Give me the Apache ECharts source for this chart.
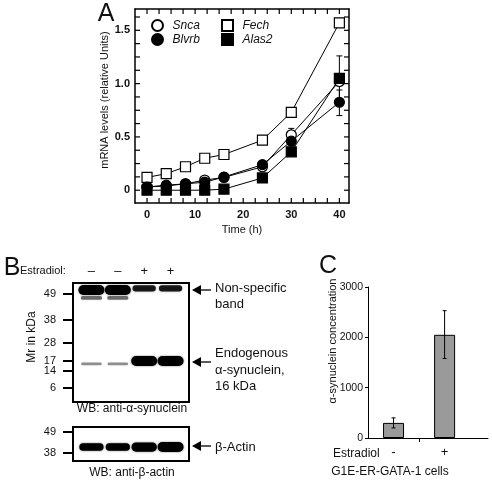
<!DOCTYPE html>
<html><head><meta charset="utf-8">
<script src="https://cdn.jsdelivr.net/npm/echarts@6/dist/echarts.min.js"></script>
<style>html,body{margin:0;padding:0;background:#fff}#c{width:492px;height:484px}</style>
</head><body><div id="c"></div>
<script>
// ---------- Panel A data ----------
const timeH = [0, 4, 8, 12, 16, 24, 30, 40];
const snca  = [0.03, 0.04, 0.06, 0.095, 0.12, 0.22, 0.52, 1.02];
const blvrb = [0.03, 0.047, 0.06, 0.075, 0.124, 0.24, 0.46, 0.825];
const fech  = [0.12, 0.155, 0.22, 0.30, 0.335, 0.47, 0.73, 1.57];
const alas2 = [0.0, 0.0, 0.0, 0.0, 0.01, 0.115, 0.36, 1.05];
// error bars: [time, low, high]
const errA = [[30, 0.46, 0.58], [40, 0.84, 1.26], [40, 0.70, 0.94]];
const xLabelsA = [0, 10, 20, 30, 40];
const xTicksA = [0, 2.5, 5, 7.5, 10, 12.5, 15, 17.5, 20, 22.5, 25, 27.5, 30, 32.5, 35, 37.5, 40];
const yLabelsA = [0, 0.5, 1.0, 1.5];
const yTicksA = [0, 0.125, 0.25, 0.375, 0.5, 0.625, 0.75, 0.875, 1.0, 1.125, 1.25, 1.375, 1.5, 1.625];
const X_MIN = -2.5, X_MAX = 42, Y_MIN = -0.12, Y_MAX = 1.7;

// ---------- Panel B data (western blots) ----------
const laneEstradiol = ['–', '–', '+', '+'];
const laneIdx = [1, 2, 3, 4];
// marker ladder: relative migration (Rf) and kDa
const synMarkerRf  = [0.092, 0.311, 0.504, 0.655, 0.739, 0.882];
const synMarkerKDa = ['49', '38', '28', '17', '14', '6'];
const actMarkerRf  = [0.147, 0.765];
const actMarkerKDa = ['49', '38'];
// bands: [lane, Rf, intensity]
const synBands = [
  [1, 0.059, 1.0], [2, 0.059, 1.0], [3, 0.045, 0.55], [4, 0.045, 0.55],
  [1, 0.126, 0.22], [2, 0.126, 0.22],
  [1, 0.68, 0.1], [2, 0.68, 0.1],
  [3, 0.655, 1.0], [4, 0.655, 1.0]
];
const actBands = [[1, 0.59, 0.7], [2, 0.59, 0.7], [3, 0.59, 0.9], [4, 0.59, 1.0]];

// ---------- Panel C data ----------
const estradiolC = ['-', '+'];
const concC = [300, 2050];
const errC = [[1, 200, 400], [2, 1580, 2530]];

const FONT = '"Liberation Sans", Arial, Helvetica, sans-serif';
const INK = '#111';

function errRender(cap) {
  return function (params, api) {
    const x = api.value(0);
    const p1 = api.coord([x, api.value(1)]);
    const p2 = api.coord([x, api.value(2)]);
    const st = { stroke: '#000', lineWidth: 1 };
    return { type: 'group', children: [
      { type: 'line', shape: { x1: p1[0], y1: p1[1], x2: p2[0], y2: p2[1] }, style: st },
      { type: 'line', shape: { x1: p1[0] - cap, y1: p1[1], x2: p1[0] + cap, y2: p1[1] }, style: st },
      { type: 'line', shape: { x1: p2[0] - cap, y1: p2[1], x2: p2[0] + cap, y2: p2[1] }, style: st }
    ]};
  };
}
function bandRender(params, api) {
  const c = api.coord([api.value(0), api.value(1)]);
  const I = api.value(2);
  const h = 2 + 8 * I, w = 20 + 6 * I;
  const a = Math.min(1, 0.3 + I);
  return { type: 'rect', shape: { x: c[0] - w / 2, y: c[1] - h / 2, width: w, height: h, r: h / 2 },
    style: { fill: 'rgba(0,0,0,' + a + ')', shadowBlur: 2, shadowColor: 'rgba(0,0,0,' + (a * 0.6) + ')' } };
}
function pick(vals, labels) {
  return function (v) {
    for (let i = 0; i < vals.length; i++) if (Math.abs(vals[i] - v) < 1e-6) return labels[i];
    return '';
  };
}
function T(x, y, text, size, opt) {
  opt = opt || {};
  return { type: 'text', x: x, y: y, rotation: opt.rot || 0, z: 100,
    style: { text: text, fill: INK, font: (opt.style || '') + ' ' + (opt.weight || '') + ' ' + size + 'px ' + FONT,
      align: opt.align || 'left', verticalAlign: 'middle' } };
}
function arrow(tipX, y) {
  return [
    { type: 'polygon', z: 100, shape: { points: [[tipX, y], [tipX + 9, y - 5], [tipX + 9, y + 5]] }, style: { fill: '#000' } },
    { type: 'line', z: 100, shape: { x1: tipX + 6, y1: y, x2: tipX + 19, y2: y }, style: { stroke: '#000', lineWidth: 1.3 } }
  ];
}
function zip(xs, ys) { return xs.map((x, i) => [x, ys[i]]); }

const chart = echarts.init(document.getElementById('c'), null, { renderer: 'canvas' });
const lineSeries = (name, data, symbol, fill, z) => ({
  name: name, type: 'line', xAxisIndex: 0, yAxisIndex: 0, data: zip(timeH, data),
  symbol: symbol, symbolSize: 10, z: z,
  lineStyle: { color: '#000', width: 1 },
  itemStyle: { color: fill, borderColor: '#000', borderWidth: 1.2 },
  emphasis: { disabled: true }
});
const SQ = 'path://M0,0L10,0L10,10L0,10Z';
const noLine = { show: false, onZero: false };
const frameLine = { show: true, onZero: false, lineStyle: { color: '#000', width: 1.5 } };

const baseGraphic = [
  T(106, 14, 'A', 25, { align: 'center' }),
  T(105, 100, 'mRNA levels (relative Units)', 11, { align: 'center', rot: Math.PI / 2 }),
  T(242, 230, 'Time (h)', 11, { align: 'center' }),
  T(12, 268, 'B', 25, { align: 'center' }),
  T(20, 271, 'Estradiol:', 11),
  T(32, 337, 'Mr in kDa', 12, { align: 'center', rot: Math.PI / 2 }),
  T(132, 409, 'WB: anti-α-synuclein', 12, { align: 'center' }),
  T(132, 473, 'WB: anti-β-actin', 12, { align: 'center' }),
  T(215, 288, 'Non-specific', 13),
  T(215, 304, 'band', 13),
  T(215, 353, 'Endogenous', 13),
  T(215, 370, 'α-synuclein,', 13),
  T(215, 386, '16 kDa', 13),
  T(215, 447, 'β-Actin', 13),
  ...arrow(192, 290), ...arrow(192, 362), ...arrow(192, 446),
  T(328, 266, 'C', 25, { align: 'center' }),
  T(333, 341, 'α-synuclein concentration', 11, { align: 'center', rot: Math.PI / 2 }),
  T(333, 454, 'Estradiol', 12),
  T(390, 472, 'G1E-ER-GATA-1 cells', 12, { align: 'center' })
];

const option = {
  animation: false,
  backgroundColor: '#fff',
  textStyle: { fontFamily: FONT },
  grid: [
    { left: 135, right: 143, top: 9, bottom: 281, outerBoundsMode: 'none' },
    { left: 73, right: 303, top: 283, bottom: 82, show: true, borderColor: '#000', borderWidth: 2, outerBoundsMode: 'none' },
    { left: 73, right: 303, top: 427, bottom: 23, show: true, borderColor: '#000', borderWidth: 2, outerBoundsMode: 'none' },
    { left: 368, right: 4, top: 287, bottom: 46, outerBoundsMode: 'none' }
  ],
  legend: [
    { data: [{ name: 'Snca', icon: 'circle' }, { name: 'Blvrb', icon: 'circle' }], orient: 'vertical', left: 151, top: 19,
      itemWidth: 20, itemHeight: 11, itemGap: 1, padding: 0, selectedMode: false,
      textStyle: { fontStyle: 'italic', fontSize: 12, color: INK, fontFamily: FONT } },
    { data: [{ name: 'Fech', icon: SQ }, { name: 'Alas2', icon: SQ }], orient: 'vertical', left: 221, top: 19,
      itemWidth: 20, itemHeight: 11, itemGap: 1, padding: 0, selectedMode: false,
      textStyle: { fontStyle: 'italic', fontSize: 12, color: INK, fontFamily: FONT } }
  ],
  xAxis: [
    { gridIndex: 0, type: 'value', min: X_MIN, max: X_MAX, position: 'bottom', axisLine: frameLine, splitLine: { show: false },
      axisTick: { show: false },
      axisLabel: { customValues: xLabelsA, fontWeight: 'bold', fontSize: 11, color: INK, margin: 6 } },
    { gridIndex: 0, type: 'value', min: X_MIN, max: X_MAX, position: 'top', axisLine: frameLine, splitLine: { show: false },
      axisTick: { show: false }, axisLabel: { show: false } },
    { gridIndex: 1, type: 'value', min: 0.3, max: 4.7, position: 'top', axisLine: noLine, splitLine: { show: false },
      axisTick: { show: false },
      axisLabel: { customValues: laneIdx, formatter: v => laneEstradiol[v - 1], fontSize: 13, color: INK, margin: 5 } },
    { gridIndex: 2, type: 'value', min: 0.3, max: 4.7, show: false, axisLine: noLine },
    { gridIndex: 3, type: 'value', min: 0.5, max: 2.85, position: 'bottom', splitLine: { show: false },
      axisLine: { show: true, onZero: false, lineStyle: { color: '#000', width: 1 } },
      axisTick: { show: true, length: 4, customValues: [1.5], lineStyle: { color: '#000' } },
      axisLabel: { customValues: [1, 2], formatter: v => estradiolC[v - 1], fontSize: 13, color: INK, margin: 8 } }
  ],
  yAxis: [
    { gridIndex: 0, type: 'value', min: Y_MIN, max: Y_MAX, position: 'left', axisLine: frameLine, splitLine: { show: false },
      axisTick: { show: false },
      axisLabel: { customValues: yLabelsA, formatter: v => (v === 0 ? '0' : v.toFixed(1)), fontWeight: 'bold', fontSize: 11, color: INK, margin: 5 } },
    { gridIndex: 0, type: 'value', min: Y_MIN, max: Y_MAX, position: 'right', axisLine: frameLine, splitLine: { show: false },
      axisTick: { show: false }, axisLabel: { show: false } },
    { gridIndex: 1, type: 'value', min: 0, max: 1, inverse: true, position: 'left', axisLine: noLine, splitLine: { show: false },
      axisTick: { show: true, length: 10, customValues: synMarkerRf, lineStyle: { color: '#000', width: 2 } },
      axisLabel: { customValues: synMarkerRf, formatter: pick(synMarkerRf, synMarkerKDa), fontSize: 11, color: INK, margin: 17 } },
    { gridIndex: 2, type: 'value', min: 0, max: 1, inverse: true, position: 'left', axisLine: noLine, splitLine: { show: false },
      axisTick: { show: true, length: 10, customValues: actMarkerRf, lineStyle: { color: '#000', width: 2 } },
      axisLabel: { customValues: actMarkerRf, formatter: pick(actMarkerRf, actMarkerKDa), fontSize: 11, color: INK, margin: 17 } },
    { gridIndex: 3, type: 'value', min: 0, max: 3000, interval: 1000, splitLine: { show: false },
      axisLine: { show: true, onZero: false, lineStyle: { color: '#000', width: 1 } },
      axisTick: { show: true, length: 3, lineStyle: { color: '#000' } },
      axisLabel: { formatter: v => String(v), fontSize: 10.5, color: INK, margin: 5 } }
  ],
  series: [
    { type: 'custom', name: 'errA', xAxisIndex: 0, yAxisIndex: 0, renderItem: errRender(3), data: errA, z: 1,
      encode: { x: 0, y: [1, 2] }, silent: true },
    lineSeries('Snca', snca, 'circle', '#fff', 2),
    lineSeries('Fech', fech, 'rect', '#fff', 3),
    lineSeries('Blvrb', blvrb, 'circle', '#000', 4),
    lineSeries('Alas2', alas2, 'rect', '#000', 5),
    { type: 'custom', name: 'synBlot', xAxisIndex: 2, yAxisIndex: 2, renderItem: bandRender, data: synBands,
      encode: { x: 0, y: 1 }, silent: true, clip: true },
    { type: 'custom', name: 'actBlot', xAxisIndex: 3, yAxisIndex: 3, renderItem: bandRender, data: actBands,
      encode: { x: 0, y: 1 }, silent: true, clip: true },
    { type: 'bar', name: 'conc', xAxisIndex: 4, yAxisIndex: 4, data: zip([1, 2], concC), barWidth: 21,
      itemStyle: { color: '#9a9a9a', borderColor: '#000', borderWidth: 1 }, silent: true },
    { type: 'custom', name: 'errC', xAxisIndex: 4, yAxisIndex: 4, renderItem: errRender(2), data: errC, z: 5,
      encode: { x: 0, y: [1, 2] }, silent: true }
  ],
  graphic: baseGraphic
};
chart.setOption(option);

// Inward frame ticks for panel A, positioned through the chart's own axis scales
const TL = 5;
const tickGraphic = [];
const tickStyle = { stroke: '#000', lineWidth: 1.2 };
xTicksA.forEach(v => {
  const b = chart.convertToPixel({ gridIndex: 0 }, [v, Y_MIN]);
  const t = chart.convertToPixel({ gridIndex: 0 }, [v, Y_MAX]);
  tickGraphic.push({ type: 'line', z: 50, shape: { x1: b[0], y1: b[1], x2: b[0], y2: b[1] - TL }, style: tickStyle });
  tickGraphic.push({ type: 'line', z: 50, shape: { x1: t[0], y1: t[1], x2: t[0], y2: t[1] + TL }, style: tickStyle });
});
yTicksA.forEach(v => {
  const l = chart.convertToPixel({ gridIndex: 0 }, [X_MIN, v]);
  const r = chart.convertToPixel({ gridIndex: 0 }, [X_MAX, v]);
  tickGraphic.push({ type: 'line', z: 50, shape: { x1: l[0], y1: l[1], x2: l[0] + TL, y2: l[1] }, style: tickStyle });
  tickGraphic.push({ type: 'line', z: 50, shape: { x1: r[0], y1: r[1], x2: r[0] - TL, y2: r[1] }, style: tickStyle });
});
chart.setOption({ graphic: baseGraphic.concat(tickGraphic) });
</script></body></html>
